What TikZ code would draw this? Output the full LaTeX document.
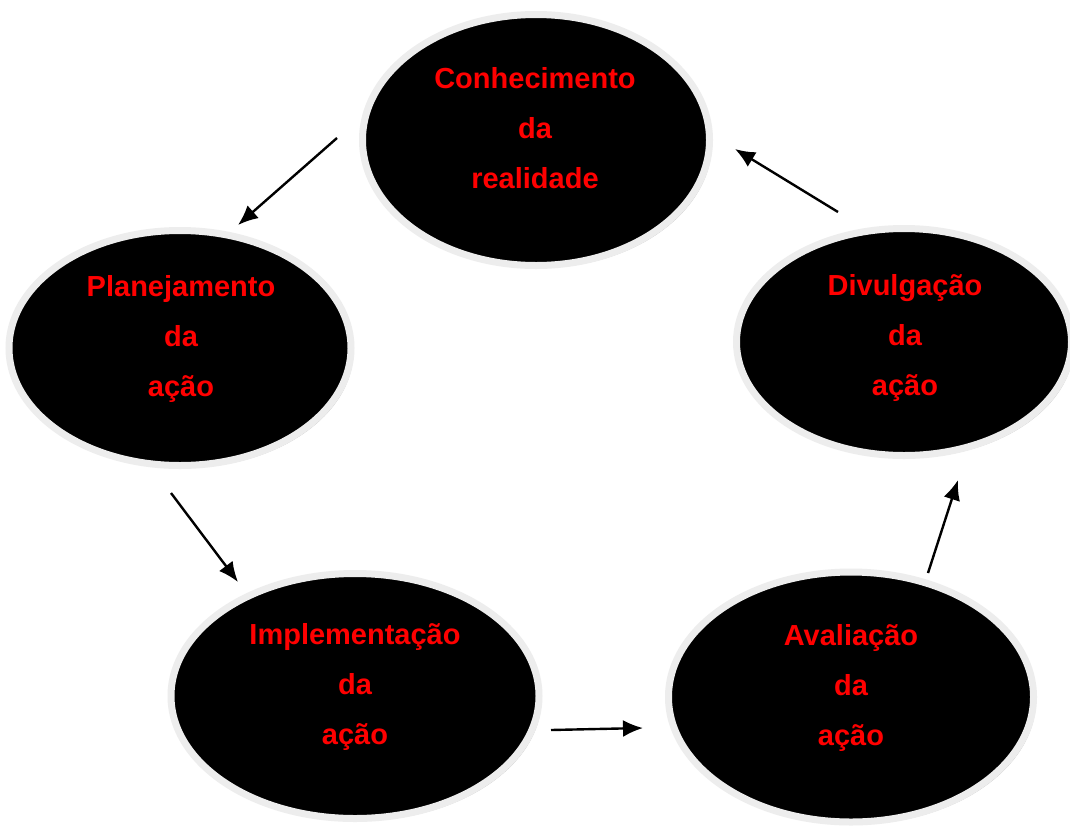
\documentclass[tikz,border=0pt]{standalone}
\usepackage{fontspec}
\setmainfont{Liberation Sans}
\usetikzlibrary{shapes.geometric,shadows,arrows.meta}
\tikzset{
  blob/.style={ellipse, fill=black, draw=gray!14, line width=7pt, inner sep=0pt,
    drop shadow={shadow xshift=2.5pt, shadow yshift=-2.5pt, fill=gray!60, opacity=1}},
  lbl/.style={text=red, font=\fontsize{29}{50}\selectfont\bfseries, align=center, inner sep=0pt},
  arr/.style={line width=2.4pt, -{Latex[length=20pt,width=17pt]}}
}
\begin{document}
\begin{tikzpicture}[x=1pt,y=-1pt]
\useasboundingbox[fill=white] (0,0) rectangle (1070,828);
% ellipses
\node[blob, minimum width=347pt, minimum height=251pt] (e1) at (536,140) {};
\node[blob, minimum width=342pt, minimum height=235pt] (e2) at (180,348) {};
\node[blob, minimum width=368pt, minimum height=245pt] (e3) at (355,696) {};
\node[blob, minimum width=365pt, minimum height=250pt] (e4) at (851,697) {};
\node[blob, minimum width=335pt, minimum height=227pt] (e5) at (904,342) {};
% labels
\node[lbl] (t1) at (535,128) {Conhecimento\\da\\realidade};
\node[lbl] (t2) at (181,339) {Planejamento\\da\\ação};
\node[lbl] (t3) at (355,687) {Implementação\\da\\ação};
\node[lbl] (t4) at (851,688) {Avaliação\\da\\ação};
\node[lbl] (t5) at (905,338) {Divulgação\\da\\ação};
% arrow end points
\coordinate (a1s) at (337,138); \coordinate (a1e) at (238,225);
\coordinate (a2s) at (171,493); \coordinate (a2e) at (238,582);
\coordinate (a3s) at (551,730); \coordinate (a3e) at (643,728);
\coordinate (a4s) at (928,573); \coordinate (a4e) at (958,480);
\coordinate (a5s) at (838,212); \coordinate (a5e) at (735,149);
\draw[arr] (a1s) -- (a1e);
\draw[arr] (a2s) -- (a2e);
\draw[arr] (a3s) -- (a3e);
\draw[arr] (a4s) -- (a4e);
\draw[arr] (a5s) -- (a5e);
\end{tikzpicture}
\end{document}
